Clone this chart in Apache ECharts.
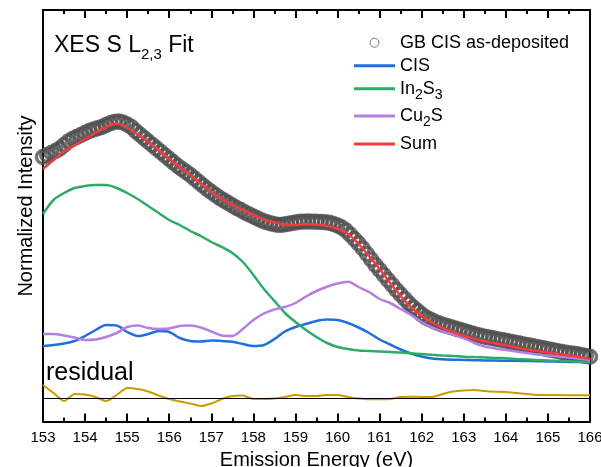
<!DOCTYPE html>
<html><head><meta charset="utf-8">
<script src="https://cdn.jsdelivr.net/npm/echarts@6/dist/echarts.min.js"></script>
<style>html,body{margin:0;padding:0;background:#fff}#c{width:601px;height:467px}</style>
</head><body><div id="c"></div>
<script>
// ---- measured data (GB CIS as-deposited) ----
const energyData = [153.0,153.1,153.2,153.3,153.4,153.5,153.6,153.7,153.8,153.9,
154.0,154.1,154.2,154.3,154.4,154.5,154.6,154.7,154.8,154.9,
155.0,155.1,155.2,155.3,155.4,155.5,155.6,155.7,155.8,155.9,
156.0,156.1,156.2,156.3,156.4,156.5,156.6,156.7,156.8,156.9,
157.0,157.1,157.2,157.3,157.4,157.5,157.6,157.7,157.8,157.9,
158.0,158.1,158.2,158.3,158.4,158.5,158.6,158.7,158.8,158.9,
159.0,159.1,159.2,159.3,159.4,159.5,159.6,159.7,159.8,159.9,
160.0,160.1,160.2,160.3,160.4,160.5,160.6,160.7,160.8,160.9,
161.0,161.1,161.2,161.3,161.4,161.5,161.6,161.7,161.8,161.9,
162.0,162.1,162.2,162.3,162.4,162.5,162.6,162.7,162.8,162.9,
163.0,163.1,163.2,163.3,163.4,163.5,163.6,163.7,163.8,163.9,
164.0,164.1,164.2,164.3,164.4,164.5,164.6,164.7,164.8,164.9,
165.0,165.1,165.2,165.3,165.4,165.5,165.6,165.7,165.8,165.9,
166.0];
const intensityData = [2.41,2.43,2.45,2.47,2.495,2.53,2.565,2.59,2.61,2.63,
2.65,2.67,2.685,2.697,2.71,2.73,2.747,2.76,2.765,2.755,
2.735,2.71,2.67,2.635,2.60,2.565,2.53,2.495,2.46,2.425,
2.39,2.355,2.32,2.29,2.26,2.23,2.195,2.16,2.125,2.09,
2.06,2.03,2.00,1.975,1.95,1.925,1.90,1.88,1.855,1.835,
1.815,1.795,1.775,1.76,1.747,1.738,1.73,1.732,1.74,1.748,
1.755,1.762,1.764,1.765,1.764,1.762,1.76,1.758,1.752,1.74,
1.725,1.705,1.675,1.635,1.59,1.545,1.495,1.44,1.385,1.33,
1.28,1.23,1.18,1.13,1.08,1.035,0.99,0.945,0.905,0.87,
0.835,0.805,0.785,0.765,0.747,0.732,0.72,0.707,0.695,0.682,
0.67,0.657,0.645,0.632,0.622,0.613,0.605,0.597,0.589,0.581,
0.572,0.563,0.555,0.547,0.538,0.53,0.522,0.514,0.505,0.497,
0.488,0.48,0.471,0.463,0.456,0.449,0.443,0.437,0.429,0.421,
0.413];

// ---- fit components ----
const energyFit = [153,153.25,153.5,153.75,154,154.25,154.5,154.75,155,155.25,155.5,155.75,
156,156.25,156.5,156.75,157,157.25,157.5,157.75,158,158.25,158.5,158.75,
159,159.25,159.5,159.75,160,160.25,160.5,160.75,161,161.25,161.5,161.75,
162,162.25,162.5,162.75,163,163.25,163.5,163.75,164,164.25,164.5,164.75,
165,165.25,165.5,165.75,166];
const cisFit = [0.52,0.53,0.545,0.57,0.62,0.68,0.73,0.725,0.66,0.62,0.64,0.67,
0.66,0.60,0.57,0.565,0.575,0.57,0.563,0.54,0.52,0.53,0.59,0.665,
0.71,0.74,0.77,0.785,0.78,0.75,0.705,0.65,0.585,0.535,0.485,0.445,
0.415,0.395,0.387,0.383,0.38,0.378,0.375,0.374,0.373,0.372,0.37,0.368,
0.365,0.363,0.36,0.359,0.357];
const in2s3Fit = [1.84,1.98,2.05,2.10,2.12,2.13,2.13,2.10,2.05,1.99,1.92,1.85,
1.78,1.73,1.67,1.62,1.56,1.51,1.45,1.36,1.23,1.09,0.97,0.85,
0.76,0.68,0.61,0.55,0.51,0.49,0.475,0.47,0.465,0.46,0.455,0.447,
0.44,0.432,0.425,0.42,0.413,0.409,0.405,0.40,0.397,0.39,0.385,0.38,
0.375,0.37,0.367,0.362,0.357];
const cu2sFit = [0.64,0.64,0.625,0.605,0.58,0.585,0.61,0.65,0.71,0.725,0.70,0.69,
0.695,0.72,0.725,0.705,0.665,0.625,0.62,0.69,0.78,0.845,0.885,0.91,
0.95,1.015,1.07,1.113,1.145,1.163,1.11,1.06,0.99,0.95,0.89,0.83,
0.76,0.705,0.665,0.635,0.60,0.55,0.515,0.495,0.48,0.465,0.45,0.435,
0.425,0.415,0.405,0.392,0.38];
const sumFit = [2.29,2.38,2.47,2.53,2.59,2.65,2.71,2.745,2.70,2.635,2.56,2.475,
2.39,2.31,2.23,2.145,2.06,1.99,1.93,1.88,1.83,1.785,1.755,1.735,
1.73,1.737,1.735,1.72,1.69,1.64,1.54,1.42,1.29,1.15,1.02,0.905,
0.82,0.755,0.70,0.66,0.62,0.59,0.565,0.545,0.525,0.505,0.485,0.47,
0.455,0.44,0.425,0.41,0.39];
const residual = [0.13,0.05,-0.03,0.04,0.035,0.01,-0.03,0.03,0.10,0.09,0.065,0.025,
-0.01,-0.035,-0.055,-0.08,-0.055,-0.01,0.02,0.025,-0.01,-0.01,-0.005,0.01,
0.03,0.02,0.02,0.03,0.03,0.01,-0.005,-0.013,-0.013,-0.01,0.01,0.013,
0.01,0.01,0.04,0.065,0.075,0.08,0.07,0.063,0.06,0.05,0.04,0.03,
0.03,0.03,0.027,0.027,0.027];

const xRange = {min: 153, max: 166, interval: 1};
const yRange = {min: -0.235, max: 3.88};

const FONT = "'Liberation Sans', Arial, Helvetica, sans-serif";
const pair = (xs, ys) => xs.map((x, i) => [x, ys[i]]);
const legendLabels = {
  'GB CIS as-deposited': '{m|GB CIS as-deposited}',
  'CIS': '{m|CIS}',
  'In2S3': '{m|In}{s|2}{m|S}{s|3}',
  'Cu2S': '{m|Cu}{s|2}{m|S}',
  'Sum': '{m|Sum}'
};
const COLORS = {cis: '#1f6fe0', in2s3: '#2faa68', cu2s: '#b57ee4', sum: '#f03c3c', res: '#c99c00', data: '#4f4f4f'};
const LINE_ICON = 'path://M0,0L41,0L41,3L0,3Z';

const chart = echarts.init(document.getElementById('c'), null, {renderer: 'canvas'});

const legendBase = {
  orient: 'vertical', left: 354, itemWidth: 41, itemHeight: 9, padding: 0,
  formatter: n => legendLabels[n],
  selectedMode: false,
  textStyle: {
    color: '#000', fontFamily: FONT, fontSize: 18,
    rich: {
      m: {fontSize: 18, lineHeight: 18, fontFamily: FONT, color: '#000'},
      s: {fontSize: 14, lineHeight: 1, height: 5, verticalAlign: 'bottom', fontFamily: FONT, color: '#000'}
    }
  }
};

const xBase = {
  type: 'value', min: xRange.min, max: xRange.max, interval: xRange.interval,
  axisLine: {show: true, onZero: false, lineStyle: {color: '#000', width: 2}},
  axisTick: {show: true, inside: true, length: 8, lineStyle: {color: '#000', width: 2}},
  minorTick: {show: true, splitNumber: 2, length: 4, lineStyle: {color: '#000', width: 2}},
  splitLine: {show: false}, minorSplitLine: {show: false}
};
const yBase = {
  type: 'value', min: yRange.min, max: yRange.max,
  axisLine: {show: true, onZero: false, lineStyle: {color: '#000', width: 2}},
  axisTick: {show: false}, axisLabel: {show: false}, splitLine: {show: false}
};

const lineSeries = (name, ys, color, width) => ({
  name, type: 'line', data: pair(energyFit, ys), showSymbol: false, symbol: 'none',
  smooth: 0.3, lineStyle: {color, width}, itemStyle: {color}, z: 3
});

chart.setOption({
  animation: false,
  backgroundColor: '#fff',
  title: {
    text: '{a|XES S L}{b|2,3}{a| Fit}', left: 54, top: 34, padding: 0,
    textStyle: {fontWeight: 'normal', rich: {
      a: {fontSize: 23, lineHeight: 23, fontFamily: FONT, color: '#000', fontWeight: 'normal'},
      b: {fontSize: 15, lineHeight: 1, height: 5, verticalAlign: 'bottom', fontFamily: FONT, color: '#000', fontWeight: 'normal'}
    }}
  },
  legend: [
    Object.assign({}, legendBase, {top: 33.7, itemGap: 5, data: [
      {name: 'GB CIS as-deposited', icon: 'circle', itemStyle: {color: '#fff', borderColor: '#555', borderWidth: 1}},
      {name: 'CIS', icon: LINE_ICON, itemStyle: {color: COLORS.cis}},
      {name: 'In2S3', icon: LINE_ICON, itemStyle: {color: COLORS.in2s3}}]}),
    Object.assign({}, legendBase, {top: 107, itemGap: 5.6, data: [
      {name: 'Cu2S', icon: LINE_ICON, itemStyle: {color: COLORS.cu2s}},
      {name: 'Sum', icon: LINE_ICON, itemStyle: {color: COLORS.sum}}]})
  ],
  grid: {left: 43, right: 11, top: 10, bottom: 45.5, containLabel: false, outerBoundsMode: 'none'},
  xAxis: [
    Object.assign({}, xBase, {position: 'bottom',
      axisLabel: {show: true, fontSize: 15, margin: 9, color: '#000', fontFamily: FONT},
      name: 'Emission Energy (eV)', nameLocation: 'middle', nameGap: 27,
      nameTextStyle: {fontSize: 20, color: '#000', fontFamily: FONT}}),
    Object.assign({}, xBase, {position: 'top', axisLabel: {show: false}})
  ],
  yAxis: [
    Object.assign({}, yBase, {position: 'left'}),
    Object.assign({}, yBase, {position: 'right'})
  ],
  graphic: [
    {type: 'text', left: 46, top: 361, style: {text: 'residual', font: '25px ' + FONT, fill: '#000'}},
    {type: 'text', x: 26, y: 206, rotation: Math.PI / 2,
      style: {text: 'Normalized Intensity', font: '20px ' + FONT, fill: '#000',
        textAlign: 'center', textVerticalAlign: 'middle', align: 'center', verticalAlign: 'middle'}}
  ],
  series: [
    {name: 'GB CIS as-deposited', type: 'scatter', data: pair(energyData, intensityData),
      symbol: 'circle', symbolSize: 13, clip: false, z: 2,
      itemStyle: {color: 'rgba(255,255,255,0)', borderColor: COLORS.data, borderWidth: 3.4}},
    lineSeries('CIS', cisFit, COLORS.cis, 2.5),
    lineSeries('In2S3', in2s3Fit, COLORS.in2s3, 2.5),
    lineSeries('Cu2S', cu2sFit, COLORS.cu2s, 2.5),
    lineSeries('Sum', sumFit, COLORS.sum, 2.5),
    {name: 'residual', type: 'line', data: pair(energyFit, residual), showSymbol: false, symbol: 'none',
      smooth: 0.2, lineStyle: {color: COLORS.res, width: 2}, z: 3,
      markLine: {silent: true, symbol: 'none', label: {show: false}, animation: false,
        lineStyle: {color: '#000', width: 1, type: 'solid'}, data: [{yAxis: 0}]}}
  ]
});
</script></body></html>
